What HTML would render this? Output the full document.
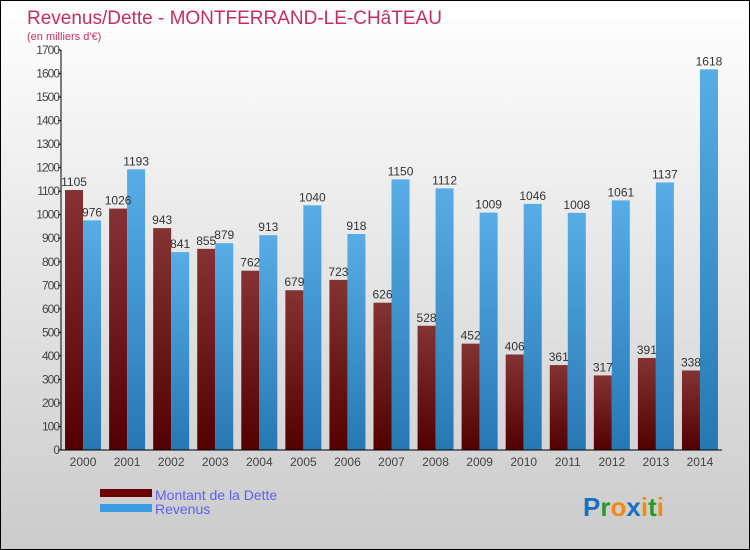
<!DOCTYPE html>
<html><head><meta charset="utf-8"><style>
body{margin:0}
#wrap{width:750px;height:550px;position:relative;box-sizing:border-box;border:1px solid #000;background:linear-gradient(#fff,#cbcbcb);font-family:"Liberation Sans",sans-serif;overflow:hidden}
</style></head><body>
<div id="wrap">
<svg id="s" width="748" height="548">
<defs>
<linearGradient id="gd" x1="0" y1="0" x2="0" y2="1"><stop offset="0" stop-color="#843232"/><stop offset="1" stop-color="#520000"/></linearGradient>
<linearGradient id="gr" x1="0" y1="0" x2="0" y2="1"><stop offset="0" stop-color="#58ade6"/><stop offset="1" stop-color="#2678b2"/></linearGradient>
</defs>
<text x="26" y="23" font-size="19" fill="#c2305e">Revenus/Dette - MONTFERRAND-LE-CHâTEAU</text>
<text x="26" y="39" font-size="11" fill="#c2305e">(en milliers d'€)</text>
<g id="g"></g>
<rect x="99" y="488" width="52" height="8" fill="#6b0000"/>
<rect x="99" y="503" width="52" height="8" fill="#3a9be0"/>
<text x="154" y="499" font-size="14" fill="#5f5fef">Montant de la Dette</text>
<text x="154" y="513" font-size="14" fill="#5f5fef">Revenus</text>
<text x="582" y="515" font-size="26" font-weight="bold"><tspan fill="#1a6fc0">P</tspan><tspan fill="#2a9a2a">r</tspan><tspan fill="#f08a10">o</tspan><tspan fill="#1a6fc0">x</tspan><tspan fill="#f08a10">i</tspan><tspan fill="#2a9a2a">t</tspan><tspan fill="#f08a10">i</tspan></text>
</svg></div>
<script>
const years=["2000","2001","2002","2003","2004","2005","2006","2007","2008","2009","2010","2011","2012","2013","2014"];
const dette=[1105,1026,943,855,762,679,723,626,528,452,406,361,317,391,338];
const revenus=[976,1193,841,879,913,1040,918,1150,1112,1009,1046,1008,1061,1137,1618];
const yTicks=[0,100,200,300,400,500,600,700,800,900,1000,1100,1200,1300,1400,1500,1600,1700];
const NS="http://www.w3.org/2000/svg",g=document.getElementById('g');
const x0=60,x1=721,y0=449,yTop=49,maxV=1700;
const y=v=>y0-(y0-yTop)*v/maxV;
const slot=(x1-x0)/years.length;
const cx=i=>x0+slot*(i+0.5);
function mk(t,a,txt){const e=document.createElementNS(NS,t);for(const k in a)e.setAttribute(k,a[k]);if(txt!=null)e.textContent=txt;g.appendChild(e);return e;}
yTicks.forEach(v=>{
 const l=mk('line',{x1:x0-3,x2:x0,y1:y(v),y2:y(v),stroke:'#000'});
 
 const t=mk('text',{x:x0-2,y:y(v)+4,'font-size':12,fill:'#444','text-anchor':'end','letter-spacing':'-1'},v);
 
});
years.forEach((yr,i)=>{
 const c=cx(i);
 const b1=mk('rect',{x:c-18,y:y(dette[i]),width:18,height:y0-y(dette[i]),fill:'url(#gd)'});
 
 const b2=mk('rect',{x:c,y:y(revenus[i]),width:18,height:y0-y(revenus[i]),fill:'url(#gr)'});
 
 const t1=mk('text',{x:c-9,y:y(dette[i])-4,'font-size':12,fill:'#333','text-anchor':'middle'},dette[i]);
 
 const t2=mk('text',{x:c+9,y:y(revenus[i])-4,'font-size':12,fill:'#333','text-anchor':'middle'},revenus[i]);
 
 const xl=mk('text',{x:c,y:y0+16,'font-size':12,fill:'#444','text-anchor':'middle'},yr);
 
});
const ya=mk('line',{x1:x0,x2:x0,y1:yTop,y2:y0,stroke:'#000'});

const xa=mk('line',{x1:x0,x2:x1,y1:y0,y2:y0,stroke:'#000'});

</script>
</body></html>
